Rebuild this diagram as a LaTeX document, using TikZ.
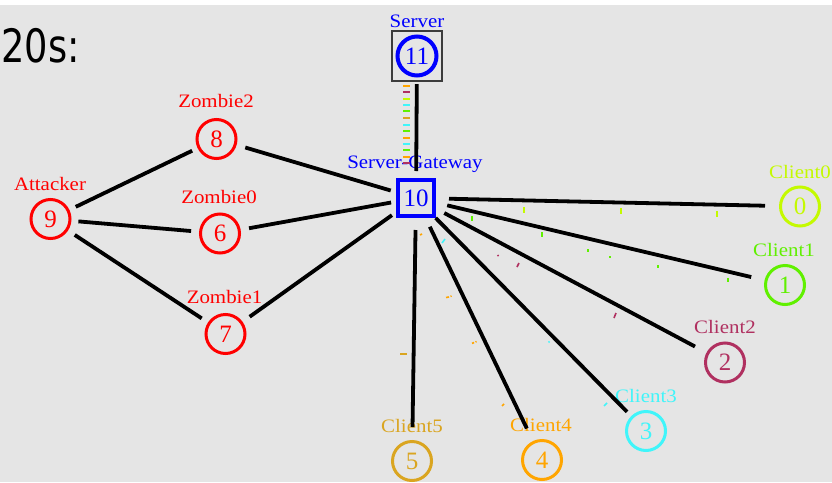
\documentclass[tikz,border=0pt]{standalone}
\usepackage{fontspec}
\newfontfamily\labfont[FakeStretch=1.1]{Liberation Serif}
\newfontfamily\numfont{Liberation Serif}
\newfontfamily\timefont[FakeStretch=0.8]{DejaVu Sans}

\definecolor{bg}{RGB}{229,229,229}
\definecolor{cA}{RGB}{196,250,0}
\definecolor{cB}{RGB}{96,240,0}
\definecolor{cC}{RGB}{176,48,96}
\definecolor{cD}{RGB}{64,245,250}
\definecolor{cE}{RGB}{255,165,0}
\definecolor{cF}{RGB}{218,165,32}
\definecolor{boxgray}{RGB}{60,60,60}

\begin{document}
\begin{tikzpicture}[x=1pt,y=-1pt,
  host/.style={circle, draw, line width=3pt, minimum size=39pt, inner sep=0pt,
    font=\numfont\fontsize{25}{25}\selectfont},
  gate/.style={rectangle, draw=blue, text=blue, line width=4pt, minimum size=36pt,
    inner sep=0pt, font=\numfont\fontsize{25}{25}\selectfont},
  frame/.style={rectangle, draw=boxgray, line width=1.4pt, minimum size=50pt, inner sep=0pt},
  lab/.style={inner sep=0pt, anchor=base, font=\labfont\fontsize{19}{19}\selectfont},
  link/.style={draw=black, line width=3.8pt},
  pkt/.style={line width=1.6pt}]

% background
\useasboundingbox (0,0) rectangle (832,482);
\fill[bg] (0,0) rectangle (832,482);
\fill[white] (0,0) rectangle (832,5);

% time stamp
\node[anchor=base west, inner sep=0pt, font=\timefont\fontsize{46}{46}\selectfont] (time) at (1,62) {20s:};

% hosts
\node[host, draw=red, text=red] (n9) at (50.5,219) {9};
\node[host, draw=red, text=red] (n8) at (216.5,139) {8};
\node[host, draw=red, text=red] (n6) at (220,233.5) {6};
\node[host, draw=red, text=red] (n7) at (225.5,334) {7};
\node[host, draw=cA, text=cA] (n0) at (800,206.5) {0};
\node[host, draw=cB, text=cB] (n1) at (785,285) {1};
\node[host, draw=cC, text=cC] (n2) at (725,362.5) {2};
\node[host, draw=cD, text=cD] (n3) at (646,431) {3};
\node[host, draw=cE, text=cE] (n4) at (542,460) {4};
\node[host, draw=cF, text=cF] (n5) at (412,461) {5};
\node[frame] (n11b) at (417,56) {};
\node[host, draw=blue, text=blue, line width=4pt, minimum size=39pt] (n11) at (417,56) {11};
\node[gate] (n10) at (416,198) {10};

% labels
\node[lab, text=blue] (l11) at (417,27) {Server};
\node[lab, text=blue] (l10) at (415,168) {Server-Gateway};
\node[lab, text=red] (l9) at (50,190) {Attacker};
\node[lab, text=red] (l8) at (216,107) {Zombie2};
\node[lab, text=red] (l6) at (219,203) {Zombie0};
\node[lab, text=red] (l7) at (224.5,303) {Zombie1};
\node[lab, text=cA] (l0) at (800,178) {Client0};
\node[lab, text=cB] (l1) at (784,256) {Client1};
\node[lab, text=cC] (l2) at (725,333) {Client2};
\node[lab, text=cD] (l3) at (646,402) {Client3};
\node[lab, text=cE] (l4) at (541,431) {Client4};
\node[lab, text=cF] (l5) at (412,432) {Client5};

% links
\draw[link, shorten <=2.5pt, shorten >=7pt] (n11b) -- (n10);
\draw[link, shorten <=7pt, shorten >=6pt] (n9) -- (n8);
\draw[link, shorten <=7pt, shorten >=8pt] (n9) -- (n6);
\draw[link, shorten <=8pt, shorten >=7.5pt] (n9) -- (n7);
\draw[link, shorten <=9pt, shorten >=5.5pt] (n8) -- (n10);
\draw[link, shorten <=8.5pt, shorten >=5pt] (n6) -- (n10);
\draw[link, shorten <=8.7pt, shorten >=5pt] (n7) -- (n10);
\draw[link, shorten <=13pt, shorten >=14pt] (n10) -- (n0);
\draw[link, shorten <=11.5pt, shorten >=13.7pt] (n10) -- (n1);
\draw[link, shorten <=9.4pt, shorten >=13pt] (n10) -- (n2);
\draw[link, shorten <=0pt, shorten >=6pt] (n10) -- (n3);
\draw[link, shorten <=9.7pt, shorten >=14pt] (n10) -- (n4);
\draw[link, shorten <=12pt, shorten >=13pt] (n10) -- (n5);

% packets in flight between server and gateway
\foreach \yy/\cc in {86/cE,92/cC,99/cA,105/cD,111/cB,118/cF,125/cD,131/cB,138/cE,144/cD,150/cB,157/cE,163/cC}
  \draw[pkt, \cc] (403,\yy) -- (410,\yy);

% packets in flight towards the clients
\foreach \xx/\ya/\yb in {524/207/213,621/208/214,717/211/217}
  \draw[pkt, cA] (\xx,\ya) -- (\xx,\yb);
\foreach \xx/\ya/\yb in {472/216/221,542/232/237,588/249/252,610/256/258,658/265/268,728/278/282}
  \draw[pkt, cB] (\xx,\ya) -- (\xx,\yb);
\draw[pkt, cC] (497.5,255) -- (498.5,256);
\draw[pkt, cC] (517,267) -- (519,263);
\draw[pkt, cC] (614,318) -- (616,313);
\draw[pkt, cD] (442,243) -- (445,239);
\draw[pkt, cD] (548.5,342.5) -- (549.5,341.5);
\draw[pkt, cD] (604,406) -- (607,403);
\draw[pkt, cE] (420,235) -- (422,234);
\draw[pkt, cE] (446,297.5) -- (449,297);
\draw[pkt, cE] (450.5,296.5) -- (451.5,296);
\draw[pkt, cE] (472,343.5) -- (474,342.5);
\draw[pkt, cE] (475.5,342) -- (476.5,341.5);
\draw[pkt, cE] (502,406) -- (504,404);
\draw[pkt, cF] (400,354) -- (407,354);
\end{tikzpicture}
\end{document}
